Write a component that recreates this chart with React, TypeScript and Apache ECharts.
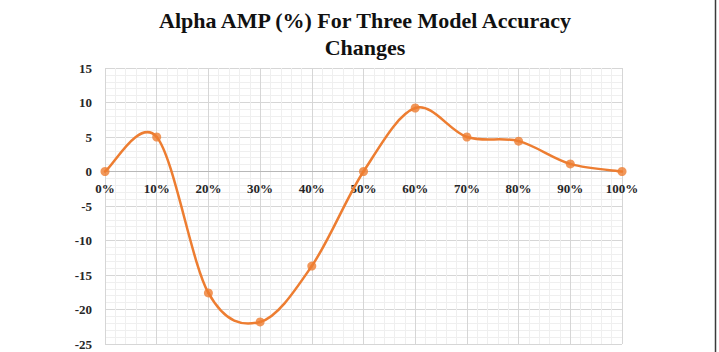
import React, { useEffect, useRef } from "react";
import * as echarts from "echarts";

// Accuracy-change steps (x) and Alpha AMP values (%)
const categories = ["0%", "10%", "20%", "30%", "40%", "50%", "60%", "70%", "80%", "90%", "100%"];
const stepValues = [0, 10, 20, 30, 40, 50, 60, 70, 80, 90, 100];
const alphaAmp = [0, 5, -17.6, -21.8, -13.7, 0, 9.2, 5, 4.4, 1.1, 0];
const yTicks = [15, 10, 5, 0, -5, -10, -15, -20, -25];

const SERIF = '"Times New Roman", "Liberation Serif", serif';
const ORANGE = "#ED7D31";

const GRID = { left: 105, right: 97, top: 68, bottom: 8 };
const CHART_H = 352;

export default function App() {
  const ref = useRef<HTMLDivElement>(null);

  useEffect(() => {
    document.body.style.margin = "0";
    if (!ref.current) return;
    const chart = echarts.init(ref.current, undefined, { renderer: "svg" });

    const labelFor = (v: number) => {
      const i = stepValues.indexOf(v);
      return i >= 0 ? categories[i] : "";
    };

    const yMin = yTicks[yTicks.length - 1];
    const yMax = yTicks[0];
    // x axis sits on the zero line of the y axis
    const plotH = CHART_H - GRID.top - GRID.bottom;
    const zeroFromBottom = (plotH * (0 - yMin)) / (yMax - yMin);

    const points = stepValues.map((x, i) => [x, alphaAmp[i]]);
    const n = points.length;

    // Catmull-Rom style smoothing, one cubic Bezier per segment
    const renderSegment = (params: any, api: any) => {
      const i = params.dataIndex;
      if (i >= n - 1) return null;
      const p = (k: number) => {
        const j = Math.max(0, Math.min(n - 1, k));
        return api.coord(points[j]);
      };
      const p0 = p(i - 1);
      const p1 = p(i);
      const p2 = p(i + 1);
      const p3 = p(i + 2);
      const t = 1 / 6;
      return {
        type: "bezierCurve",
        shape: {
          x1: p1[0],
          y1: p1[1],
          cpx1: p1[0] + (p2[0] - p0[0]) * t,
          cpy1: p1[1] + (p2[1] - p0[1]) * t,
          cpx2: p2[0] - (p3[0] - p1[0]) * t,
          cpy2: p2[1] - (p3[1] - p1[1]) * t,
          x2: p2[0],
          y2: p2[1],
        },
        style: { stroke: ORANGE, lineWidth: 2.5, fill: "none", lineCap: "round" },
      };
    };

    chart.setOption({
      animation: false,
      backgroundColor: "#ffffff",
      title: {
        text: "Alpha AMP (%) For Three Model Accuracy\nChanges",
        left: 360,
        textAlign: "center",
        top: 2,
        textStyle: {
          fontFamily: SERIF,
          fontWeight: "bold",
          fontSize: 22,
          lineHeight: 27,
          color: "#111111",
        },
      },
      grid: GRID,
      xAxis: {
        type: "value",
        min: 0,
        max: 100,
        interval: 10,
        offset: -zeroFromBottom,
        axisLine: { onZero: false, lineStyle: { color: "#b8b8b8", width: 1 } },
        axisTick: { show: false },
        axisLabel: {
          formatter: (v: number) => labelFor(v),
          fontFamily: SERIF,
          fontWeight: "bold",
          fontSize: 13,
          color: "#262626",
          margin: 10,
        },
        splitLine: { show: true, lineStyle: { color: "#d6d6d6", width: 1 } },
        minorTick: { show: false, splitNumber: 5 },
        minorSplitLine: { show: true, lineStyle: { color: "#efefef", width: 1 } },
      },
      yAxis: {
        type: "value",
        min: yMin,
        max: yMax,
        interval: 5,
        axisLine: { show: false },
        axisTick: { show: false },
        axisLabel: {
          fontFamily: SERIF,
          fontWeight: "bold",
          fontSize: 13,
          color: "#262626",
          margin: 13,
        },
        splitLine: { show: true, lineStyle: { color: "#d6d6d6", width: 1 } },
        minorTick: { show: false, splitNumber: 5 },
        minorSplitLine: { show: true, lineStyle: { color: "#efefef", width: 1 } },
      },
      series: [
        {
          type: "custom",
          data: points,
          encode: { x: 0, y: 1 },
          renderItem: renderSegment,
          clip: false,
          z: 4,
        },
        {
          type: "scatter",
          data: points,
          symbol: "circle",
          symbolSize: 9,
          itemStyle: { color: ORANGE },
          z: 5,
        },
      ],
      graphic: [
        {
          type: "line",
          shape: { x1: 715.5, y1: 0, x2: 715.5, y2: 352 },
          style: { stroke: "#3a3a3a", lineWidth: 1.5 },
        },
      ],
    });

    return () => chart.dispose();
  }, []);

  return <div ref={ref} style={{ width: 719, height: 352 }} />;
}
